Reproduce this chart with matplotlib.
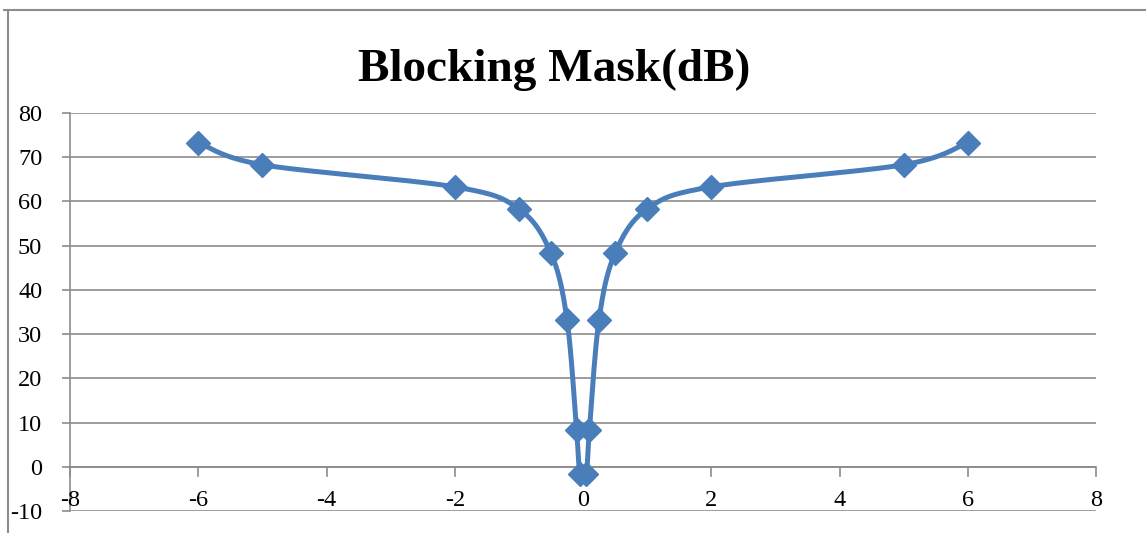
import matplotlib.pyplot as plt
import numpy as np
from matplotlib.lines import Line2D

# Blocking mask data (offset in MHz vs. level in dB)
offset = [-6, -5, -2, -1, -0.5, -0.25, -0.1, -0.05, 0.05, 0.1, 0.25, 0.5, 1, 2, 5, 6]
level = [73.3, 68.3, 63.3, 58.3, 48.3, 33.3, 8.3, -1.7, -1.7, 8.3, 33.3, 48.3, 58.3, 63.3, 68.3, 73.3]
yticks = list(range(-10, 81, 10))
xticks = list(range(-8, 9, 2))

blue = "#4a7ebb"
grey = "#8c8c8c"
serif = ["Liberation Serif", "DejaVu Serif"]

fig = plt.figure(figsize=(11.46, 5.33), dpi=100)
ax = fig.add_axes([70 / 1146, 1 - 511 / 533, (1096 - 70) / 1146, (511 - 113) / 533])
ax.set_xlim(-8, 8)
ax.set_ylim(-10, 80)


def smooth(xs, ys, n=30):
    # Catmull-Rom style bezier through points, computed in display space
    pts = ax.transData.transform(np.column_stack([xs, ys]))
    out = []
    for i in range(len(pts) - 1):
        p0 = pts[max(i - 1, 0)]
        p1 = pts[i]
        p2 = pts[i + 1]
        p3 = pts[min(i + 2, len(pts) - 1)]
        c1 = p1 + (p2 - p0) / 6
        c2 = p2 - (p3 - p1) / 6
        t = np.linspace(0, 1, n)[:, None]
        seg = (1 - t) ** 3 * p1 + 3 * (1 - t) ** 2 * t * c1 + 3 * (1 - t) * t ** 2 * c2 + t ** 3 * p2
        out.append(seg)
    curve = ax.transData.inverted().transform(np.vstack(out))
    return curve[:, 0], curve[:, 1]


sx, sy = smooth(offset, level)
ax.plot(sx, sy, color=blue, lw=3.6, solid_capstyle="round", zorder=3)
ax.plot(offset, level, ls="none", marker="D", ms=12.5, color=blue, zorder=4)

# grid and axes in the spreadsheet style
ax.set_yticks(yticks)
ax.set_yticklabels([str(v).replace("\u2212", "-") for v in yticks])
ax.set_xticks(xticks)
ax.yaxis.grid(True, color=grey, lw=1.2)
ax.set_axisbelow(True)
for s in ["top", "right", "bottom"]:
    ax.spines[s].set_visible(False)
ax.spines["left"].set_color(grey)
ax.spines["left"].set_linewidth(1.2)
ax.axhline(0, color=grey, lw=1.2, zorder=1)

ax.tick_params(axis="y", length=6, color=grey, width=1.2, pad=14, labelsize=17.5)
ax.tick_params(axis="x", length=0, labelbottom=False)
for t in ax.get_yticklabels():
    t.set_fontfamily(serif)

# x ticks and labels sit on the zero line
for xv in xticks:
    ax.plot([xv, xv], [0, -2], color=grey, lw=1.2, clip_on=False, zorder=1)
    ax.text(xv, -7.6, str(xv), ha="center", va="center", fontsize=17.5, family=serif)

fig.text(0.484, 1 - 70 / 533, "Blocking Mask(dB)", ha="center", va="center",
         fontsize=34, fontweight="bold", family=serif)

# chart frame
fig.add_artist(Line2D([4 / 1146, 1], [1 - 10 / 533] * 2, color=grey, lw=1.5))
fig.add_artist(Line2D([8 / 1146] * 2, [0, 1 - 10 / 533], color=grey, lw=1.5))

fig.savefig("out.png", dpi=100)
